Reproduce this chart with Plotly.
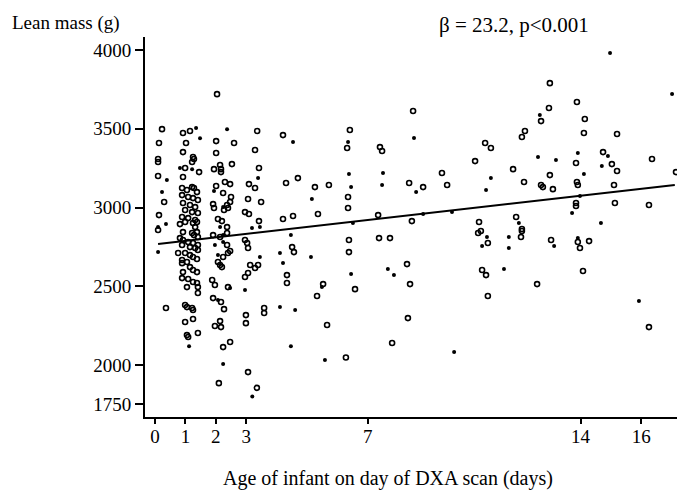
import plotly.graph_objects as go

# ---- data ----
days_open = [
    0.23, 0.13, 0.10, 0.10, 0.10, 0.30, 0.13, 0.10, 0.36,
    0.92, 1.15, 1.02, 0.92, 1.25, 1.28, 1.22, 0.99, 1.45, 0.92, 1.22, 1.28, 1.38,
    0.89, 1.05, 0.89, 1.09, 1.25, 1.41, 0.92, 1.15, 1.32, 0.99, 1.22, 1.41, 0.89, 1.09, 1.32,
    0.82, 0.99, 1.25, 1.38, 1.32, 0.92, 1.22, 1.28, 1.38, 1.41, 0.82, 0.92, 1.09, 1.25, 1.41,
    0.89, 1.15, 1.32, 1.41, 0.76, 0.99, 1.15, 1.25, 0.89, 1.05, 1.38, 0.89, 1.15, 1.25, 0.92,
    1.38, 0.89, 1.09, 1.25, 1.38, 1.41, 1.05, 1.41, 0.99, 1.05, 1.22, 1.25, 0.99, 1.25, 1.05,
    1.09, 1.41,
    2.04, 2.01, 2.60, 2.01, 1.94, 2.14, 2.17, 2.17, 2.53, 2.30, 2.47, 2.01, 2.24, 2.50, 2.47,
    2.37, 2.40, 2.27, 1.91, 1.94, 2.07, 2.20, 2.37, 1.91, 2.14, 2.37, 2.37, 2.24, 2.40, 2.47,
    2.07, 2.14, 2.20, 1.88, 1.97, 2.40, 1.91, 2.17, 2.27, 2.14, 1.97, 2.17, 2.24, 2.47, 2.10,
    3.36, 3.29, 3.42, 3.09, 3.29, 3.06, 3.49, 2.96, 3.09, 3.42, 2.96, 3.03, 3.06, 3.13, 3.29,
    3.39, 2.96, 3.06, 2.99, 2.99, 3.59, 3.59, 3.06, 3.35,
    4.21, 4.70, 4.31, 4.54, 4.21, 4.51, 4.57, 4.34, 4.34,
    5.26, 5.36, 5.72, 5.53, 5.33, 5.66, 6.41, 6.32, 6.35, 6.35, 6.38, 6.38, 6.58, 6.28,
    7.40, 7.47, 7.34, 7.37, 7.73, 7.80, 8.49, 8.36, 8.82, 8.45, 8.29, 8.39, 8.32,
    9.44, 9.61, 10.53, 10.86, 10.66, 10.63, 10.72, 10.95, 10.76, 10.89, 10.95, 11.05,
    12.04, 12.07, 12.57, 11.88, 12.07, 11.78, 12.14, 12.17, 12.07, 12.70, 12.96, 12.99,
    12.99, 12.70, 12.76, 13.09, 13.03, 13.88, 13.85, 13.88, 13.91, 13.85, 13.85, 13.91,
    13.98, 14.28, 14.08, 14.14, 14.11, 14.74, 15.03, 15.20, 15.10, 15.13, 15.20, 16.25,
    16.35, 16.25, 17.14,
]
mass_open = [
    3498, 3410, 3308, 3289, 3200, 3035, 2952, 2857, 2362,
    3473, 3486, 3410, 3352, 3321, 3308, 3289, 3251, 3225, 3194, 3130, 3124, 3098,
    3124, 3111, 3079, 3067, 3060, 3048, 3029, 3016, 3003, 2984, 2971, 2965, 2940, 2933, 2921,
    2895, 2908, 2902, 2908, 2876, 2844, 2838, 2825, 2844, 2813, 2806, 2794, 2781, 2775, 2762,
    2762, 2749, 2743, 2730, 2711, 2711, 2698, 2686, 2667, 2654, 2673, 2647, 2622, 2603, 2590,
    2590, 2552, 2546, 2527, 2521, 2495, 2495, 2457, 2381, 2368, 2362, 2349, 2273, 2292, 2190,
    2178, 2203,
    3720, 3422, 3410, 3346, 3244, 3270, 3244, 3225, 3276, 3162, 3149, 3137, 3092, 3067, 3035,
    3016, 2997, 2984, 3022, 2997, 2927, 2914, 2876, 2825, 2813, 2838, 2762, 2686, 2711, 2724,
    2654, 2635, 2622, 2540, 2508, 2495, 2425, 2400, 2355, 2279, 2248, 2241, 2114, 2146, 1885,
    3486, 3365, 3251, 3149, 3124, 3054, 3035, 2971, 2959, 2914, 2794, 2775, 2743, 2635, 2616,
    2635, 2559, 2584, 2317, 2266, 2362, 2330, 1955, 1855,
    3460, 3187, 3156, 2946, 2927, 2749, 2717, 2571, 2521,
    3130, 2959, 3143, 2514, 2438, 2254, 3492, 3378, 3067, 2997, 2794, 2717, 2482, 2048,
    3384, 3359, 2952, 2806, 2806, 2140, 3613, 3156, 3130, 2914, 2641, 2514, 2298,
    3219, 3143, 3295, 3410, 2908, 2838, 2851, 2775, 2603, 2571, 2438, 3378,
    2813, 2851, 2514, 2940, 2864, 3244, 3162, 3486, 3448, 3549, 3632, 3790,
    3206, 3143, 3130, 3117, 2794, 3670, 3283, 3162, 3143, 3029, 3010, 2781,
    2743, 2787, 2597, 3562, 3473, 3352, 3276, 3232, 3143, 3029, 3467, 2241,
    3308, 3016, 3225,
]
days_filled = [
    0.39, 0.23, 0.10, 0.36, 0.10, 1.35, 1.48, 0.82, 1.22, 1.12,
    2.37, 1.94, 2.24, 2.14, 2.24, 1.97, 2.24, 2.07, 2.47, 2.07, 2.24,
    3.39, 3.19, 3.45, 3.45, 2.96, 3.20,
    4.54, 4.47, 4.11, 4.21, 4.11, 4.61, 4.47,
    5.16, 5.13, 5.49, 5.59, 6.35, 6.38, 6.45, 6.51, 6.45,
    7.50, 7.47, 7.66, 7.86, 8.52, 8.59, 8.82, 9.77, 9.84,
    10.89, 10.92, 10.76, 11.05, 11.64, 11.64, 11.48, 11.97, 12.60, 12.66, 13.19, 13.13,
    13.72, 13.91, 14.11, 13.98, 13.91, 14.67, 14.70, 14.90, 14.97, 15.92, 17.01,
]
mass_filled = [
    3175, 3098, 2876, 2895, 2717, 3505, 3440, 3251, 3244, 2120,
    3498, 3105, 3003, 2876, 2825, 2762, 2781, 2698, 2489, 2413, 2006,
    3187, 2870, 2876, 2686, 2476, 1800,
    3416, 2825, 2711, 2648, 2368, 2349, 2120,
    3054, 2686, 2495, 2032, 3416, 3213, 3130, 2902, 2578,
    3219, 3143, 2610, 2571, 3441, 3098, 2959, 2971, 2083,
    3111, 2813, 2756, 3187, 2813, 2743, 2610, 2902, 3321, 3588, 3302, 2756,
    2965, 3346, 3213, 3073, 2806, 2902, 3264, 3327, 3981, 2406, 3721,
]

fit_intercept = 2767   # g, drawn regression line
fit_slope = 22.0       # g per day
fit_days = [0.1, 17.1]
fit_mass = [fit_intercept + fit_slope * d for d in fit_days]

x_ticks = [0, 1, 2, 3, 7, 14, 16]
y_ticks = [1750, 2000, 2500, 3000, 3500, 4000]

SERIF = "Liberation Serif, Times New Roman, serif"

# the page body has an 8px default margin, so the figure is 8px smaller each way
W, H = 677, 486
ML, MR, MT, MB = 137, 2, 29, 77
PW, PH = W - ML - MR, H - MT - MB

fig = go.Figure()
fig.add_trace(go.Scatter(
    x=days_open, y=mass_open, mode="markers",
    marker=dict(symbol="circle-open", size=5, color="black", line=dict(width=1.6, color="black")),
    showlegend=False, hoverinfo="skip"))
fig.add_trace(go.Scatter(
    x=days_filled, y=mass_filled, mode="markers",
    marker=dict(symbol="circle", size=4, color="black"),
    showlegend=False, hoverinfo="skip"))
fig.add_trace(go.Scatter(
    x=fit_days, y=fit_mass, mode="lines",
    line=dict(color="black", width=2), showlegend=False, hoverinfo="skip"))

fig.update_layout(
    width=W, height=H,
    margin=dict(l=ML, r=MR, t=MT, b=MB),
    paper_bgcolor="white", plot_bgcolor="white",
    font=dict(family=SERIF, size=19, color="black"),
    xaxis=dict(
        range=[-0.33, 17.37], tickmode="array", tickvals=x_ticks,
        ticktext=[str(t) for t in x_ticks],
        showline=True, linecolor="black", linewidth=2, showgrid=False, zeroline=False,
        ticks="outside", ticklen=5, tickwidth=1.5, tickcolor="black",
        tickfont=dict(family=SERIF, size=19), ticklabelstandoff=-4,
    ),
    yaxis=dict(
        range=[1670, 4083], tickmode="array", tickvals=y_ticks,
        ticktext=[str(t) for t in y_ticks],
        showline=True, linecolor="black", linewidth=2, showgrid=False, zeroline=False,
        ticks="outside", ticklen=8, tickwidth=1.5, tickcolor="black",
        tickfont=dict(family=SERIF, size=19),
    ),
    annotations=[
        dict(text="Lean mass (g)", xref="paper", yref="paper", x=(10 - 145) / PW, y=1 + 27 / PH,
             xanchor="left", yanchor="top", showarrow=False,
             font=dict(family=SERIF, size=19)),
        dict(text="β = 23.2, p<0.001", xref="paper", yref="paper", x=(514 - 145) / PW, y=1 + 12 / PH,
             xanchor="center", yanchor="middle", showarrow=False,
             font=dict(family=SERIF, size=21)),
        dict(text="Age of infant on day of DXA scan (days)", xref="paper", yref="paper",
             x=(388 - 145) / PW, y=-(478 - 417) / PH,
             xanchor="center", yanchor="middle", showarrow=False,
             font=dict(family=SERIF, size=20)),
    ],
)

fig.write_html("out.html")
